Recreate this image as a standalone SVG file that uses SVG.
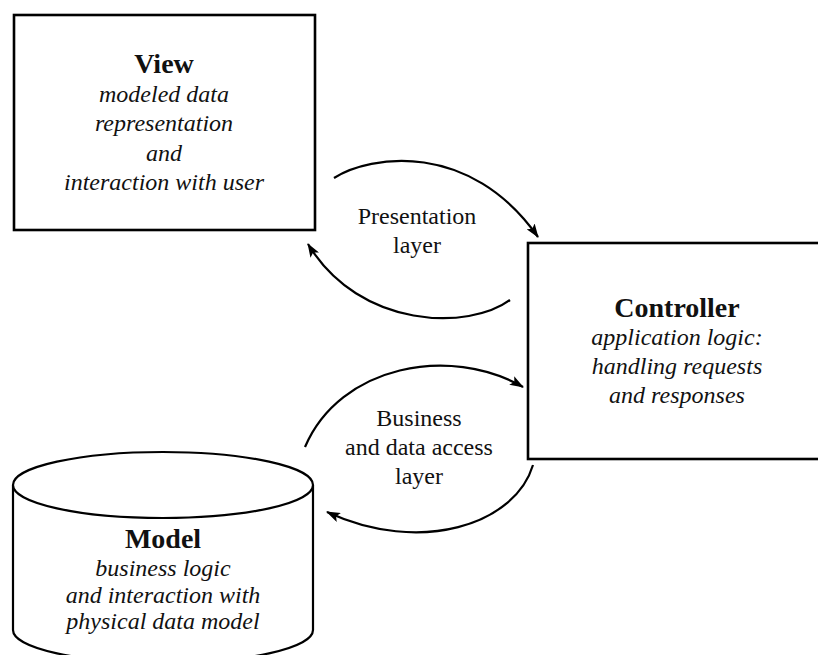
<svg xmlns="http://www.w3.org/2000/svg" width="818" height="655" viewBox="0 0 818 655">
<style>
.box{fill:#fff;stroke:#000;stroke-width:2.6}
.cyl{fill:#fff;stroke:#000;stroke-width:2.2}
.conn{fill:none;stroke:#000;stroke-width:2.2}
text{font-family:"Liberation Serif","Times New Roman",serif;fill:#111;text-anchor:middle}
.title{font-size:28px;font-weight:bold}
.desc{font-size:24px;font-style:italic}
.lbl{font-size:24px}
</style>
<defs>
<marker id="ah" viewBox="0 0 14 10" refX="13" refY="5" markerWidth="14" markerHeight="10" orient="auto" markerUnits="userSpaceOnUse">
<path d="M0,0 L14,5 L0,10 L3,5 z" fill="#000"/>
</marker>
</defs>
<rect width="818" height="655" fill="#fff"/>
<g id="view">
<rect class="box" x="14" y="15" width="301" height="215"/>
<text class="title" x="164" y="73">View</text>
<text class="desc" x="164" y="102">modeled data</text>
<text class="desc" x="164" y="131">representation</text>
<text class="desc" x="164" y="161">and</text>
<text class="desc" x="164" y="190">interaction with user</text>
</g>
<g id="controller">
<rect class="box" x="528" y="243" width="300" height="216"/>
<text class="title" x="677" y="317">Controller</text>
<text class="desc" x="677" y="345">application logic:</text>
<text class="desc" x="677" y="374">handling requests</text>
<text class="desc" x="677" y="403">and responses</text>
</g>
<g id="model">
<path class="cyl" d="M13,485 L13,630 A150,33 0 0 0 313,630 L313,485"/>
<ellipse class="cyl" cx="163" cy="485" rx="150" ry="33"/>
<text class="title" x="163" y="548">Model</text>
<text class="desc" x="163" y="576">business logic</text>
<text class="desc" x="163" y="603">and interaction with</text>
<text class="desc" x="163" y="629">physical data model</text>
</g>
<g id="connectors">
<path class="conn" marker-end="url(#ah)" d="M334,178 C370,155 470,140 538,237"/>
<path class="conn" marker-end="url(#ah)" d="M510,300 C470,330 360,330 308,244"/>
<path class="conn" marker-end="url(#ah)" d="M305,447 C340,365 450,345 523,387"/>
<path class="conn" marker-end="url(#ah)" d="M533,465 C515,525 420,555 327,512"/>
<text class="lbl" x="417" y="224">Presentation</text>
<text class="lbl" x="417" y="253">layer</text>
<text class="lbl" x="419" y="426">Business</text>
<text class="lbl" x="419" y="455">and data access</text>
<text class="lbl" x="419" y="484">layer</text>
</g>
</svg>
